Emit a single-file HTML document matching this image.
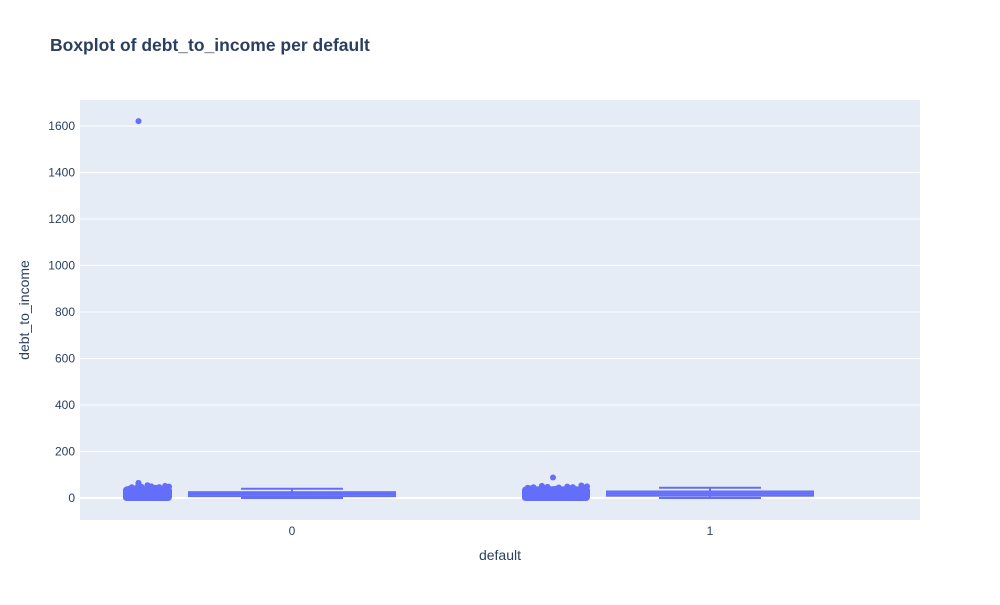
<!DOCTYPE html>
<html><head><meta charset="utf-8"><style>
body{margin:0;background:#fff;font-family:"Liberation Sans",sans-serif}
svg text{font-family:"Liberation Sans",sans-serif}
</style></head><body>
<svg id="chart" width="1000" height="600">
<text x="50" y="51" font-size="17.5" font-weight="bold" fill="#2a3f5f">Boxplot of debt_to_income per default</text>
<rect x="80" y="100" width="840" height="420" fill="#e5ecf6"/>
<g id="grid"></g>
<g id="marks"></g>
<text x="500" y="560" font-size="14" fill="#2a3f5f" text-anchor="middle">default</text>
<text transform="translate(29,310) rotate(-90)" font-size="14" fill="#2a3f5f" text-anchor="middle">debt_to_income</text>
</svg>
<script>
const categories=["0","1"];
const yTicks=[0,200,400,600,800,1000,1200,1400,1600];
const q1=[8,10];
const medians=[17,19];
const q3=[25,28];
const lowerFence=[0,0];
const upperFence=[40,44];
const points0=[1,3,5,7,9,11,12,14,15,16,18,19,20,21,22,23,24,25,26,27,28,29,30,31,32,33,34,35,36,37,38,39,40,41,42,43,44,45,46,47,48,49,50,2,6,10,13,17,22,28,33,38,44,49,52,55,63,65,1621];
const points1=[1,3,5,7,9,11,12,14,15,16,18,19,20,21,22,23,24,25,26,27,28,29,30,31,32,33,34,35,36,37,38,39,40,41,42,43,44,45,46,47,48,50,2,6,10,13,17,22,28,33,38,44,49,52,54,88];
const pointSets=[points0,points1];
const NS="http://www.w3.org/2000/svg";
const y=v=>498-v*0.2325;
const xc=i=>292+i*418;
const grid=document.getElementById('grid'),marks=document.getElementById('marks'),svg=document.getElementById('chart');
function mk(p,tag,a){const e=document.createElementNS(NS,tag);for(const k in a)e.setAttribute(k,a[k]);p.appendChild(e);return e;}
yTicks.forEach(t=>{
 const l=mk(grid,'line',{x1:80,x2:920,y1:y(t),y2:y(t),stroke:'#fff','stroke-width':t===0?2:1});
 
 
 const tx=mk(svg,'text',{x:75,y:y(t)+4,'font-size':12,fill:'#2a3f5f','text-anchor':'end'});
 tx.textContent=t;
 
 
});
categories.forEach((c,i)=>{
 const cx=xc(i);
 const tx=mk(svg,'text',{x:cx,y:535,'font-size':12,fill:'#2a3f5f','text-anchor':'middle'});
 tx.textContent=c;
 
 
 const g=mk(marks,'g',{});
 
 
 const col='#636efa';
 mk(g,'line',{x1:cx,x2:cx,y1:y(upperFence[i]),y2:y(q3[i]),stroke:col,'stroke-width':2});
 mk(g,'line',{x1:cx,x2:cx,y1:y(q1[i]),y2:y(lowerFence[i]),stroke:col,'stroke-width':2});
 mk(g,'line',{x1:cx-51,x2:cx+51,y1:y(upperFence[i]),y2:y(upperFence[i]),stroke:col,'stroke-width':2});
 mk(g,'line',{x1:cx-51,x2:cx+51,y1:y(lowerFence[i]),y2:y(lowerFence[i]),stroke:col,'stroke-width':2});
 mk(g,'rect',{x:cx-103,y:y(q3[i]),width:206,height:Math.max(1,y(q1[i])-y(q3[i])),fill:'rgba(99,110,250,0.5)',stroke:col,'stroke-width':2});
 mk(g,'line',{x1:cx-103,x2:cx+103,y1:y(medians[i]),y2:y(medians[i]),stroke:col,'stroke-width':2});
 const pg=mk(marks,'g',{});
 
 
 const pc=i?cx-154:cx-144.5, w=i?31:21.5;
 pointSets[i].forEach((v,k)=>{
  const j=((k*37)%23)/22*2-1;
  const big=v>55;
  const dx=big?(i?-3:-9):j*w;
  const p=mk(pg,'circle',{cx:pc+dx,cy:y(v),r:3,fill:col});
  
  
 });
 const b=mk(pg,'rect',{x:pc-w-3,y:y(50),width:2*w+6,height:y(0)-y(50)+3,rx:4,fill:col});
 
 
});
</script>
</body></html>
